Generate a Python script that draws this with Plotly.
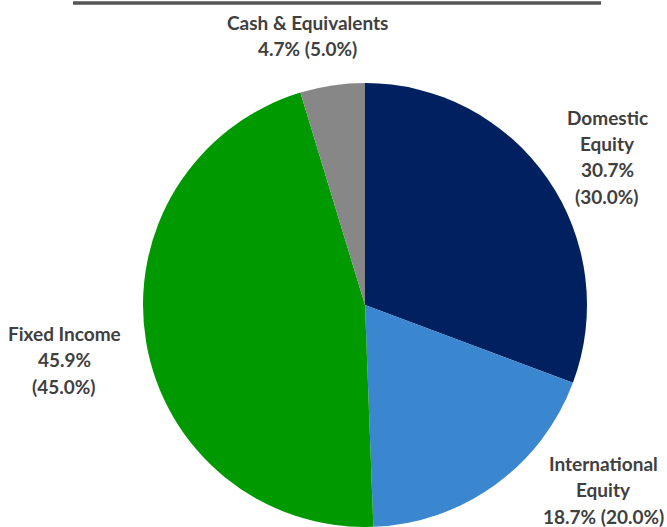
import plotly.graph_objects as go

categories = ["Domestic Equity", "International Equity", "Fixed Income", "Cash & Equivalents"]
actual_pct = [30.7, 18.7, 45.9, 4.7]
target_pct = [30.0, 20.0, 45.0, 5.0]
colors = ["#002060", "#3A87D0", "#009900", "#878787"]

# label line breakdown (text only)
label_lines = {
    "Domestic Equity": ["Domestic", "Equity", "{a:.1f}%", "({t:.1f}%)"],
    "International Equity": ["International", "Equity", "{a:.1f}% ({t:.1f}%)"],
    "Fixed Income": ["Fixed Income", "{a:.1f}%", "({t:.1f}%)"],
    "Cash & Equivalents": ["Cash & Equivalents", "{a:.1f}% ({t:.1f}%)"],
}
label_pos = {
    "Domestic Equity": (607, 117),
    "International Equity": (603, 463),
    "Fixed Income": (64, 333),
    "Cash & Equivalents": (307, 22),
}
W, H = 667, 527
LINE_STEP = 26.5
CX, CY, R = 365, 305, 222

fig = go.Figure(go.Pie(
    labels=categories,
    values=actual_pct,
    sort=False,
    direction="clockwise",
    rotation=0,
    marker=dict(colors=colors, line=dict(width=0)),
    textinfo="none",
    hoverinfo="label+percent",
    domain=dict(x=[(CX - R) / W, (CX + R) / W],
                y=[max(0, (H - CY - R) / H), min(1, (H - CY + R) / H)]),
    showlegend=False,
))

annotations = []
for cat, a, t in zip(categories, actual_pct, target_pct):
    cx, cy = label_pos[cat]
    for i, line in enumerate(label_lines[cat]):
        annotations.append(dict(
            x=cx / W, y=1 - (cy + i * LINE_STEP) / H,
            xref="paper", yref="paper", xanchor="center", yanchor="middle",
            text="<b>" + line.format(a=a, t=t).replace("&", "&amp;") + "</b>",
            showarrow=False,
            font=dict(family="Lato, Open Sans, sans-serif", size=19, color="#404040"),
        ))

fig.update_layout(
    width=W, height=H,
    margin=dict(l=0, r=0, t=0, b=0),
    paper_bgcolor="white", plot_bgcolor="white",
    annotations=annotations,
    shapes=[dict(type="line", xref="paper", yref="paper",
                 x0=73/W, x1=601/W, y0=1 - 3/H, y1=1 - 3/H,
                 line=dict(color="#555555", width=3.5))],
)

fig.write_html("out.html", config={"displayModeBar": False},
               post_script="document.body.style.margin='0';")
